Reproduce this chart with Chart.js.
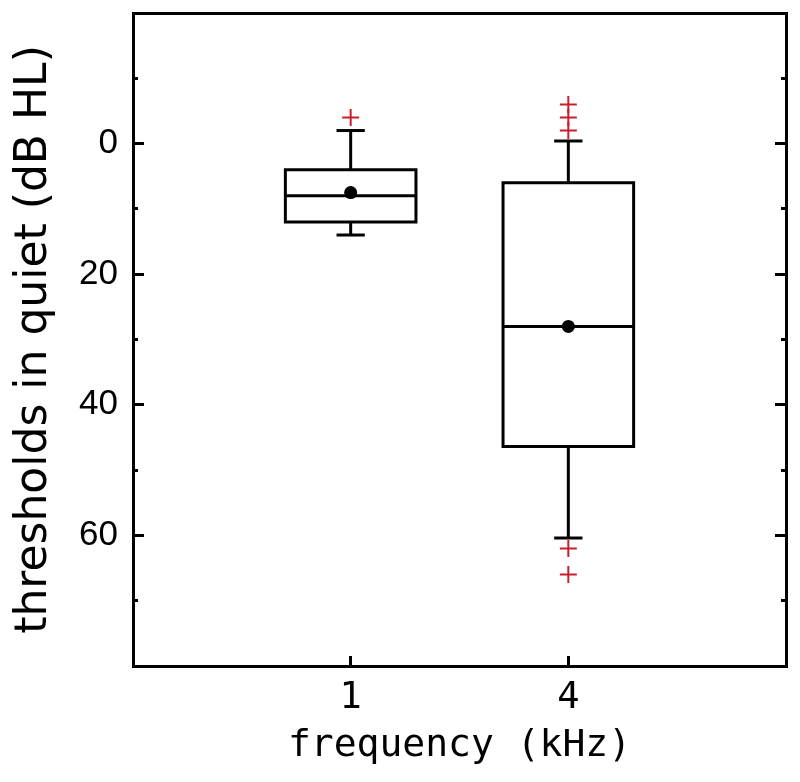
<!DOCTYPE html>
<html>
<head>
<meta charset="utf-8">
<script src="https://cdn.jsdelivr.net/npm/chart.js@4/dist/chart.umd.min.js"></script>
<style>
  html, body { margin: 0; padding: 0; background: #fff; }
  #wrap { width: 800px; height: 782px; }
</style>
</head>
<body>
<div id="wrap"><canvas id="thresholdChart" width="800" height="782"></canvas></div>
<script>
// values (dB HL, 0 at top)
var freqLabels = ['1', '4'];
var xPositions = [1, 2];
var boxTop = [4, 6];           // 25th percentile
var boxBottom = [12, 46.4];    // 75th percentile
var medians = [8, 28];
var means = [7.5, 28];
var whiskerTop = [-2, -0.4];
var whiskerBottom = [14, 60.4];
var outliers = [[-4], [-6, -4, -2, 62, 66]];
var yTickLabels = [0, 20, 40, 60];

var boxHalf = 0.3;
var capHalf = 0.065;
var outlierRed = 'rgb(200,30,45)';

function lineSet(points) {
    return {
        type: 'line',
        data: points,
        borderColor: '#000',
        borderWidth: 3,
        borderJoinStyle: 'miter',
        pointRadius: 0,
        fill: false,
        tension: 0
    };
}

var datasets = [];
for (var i = 0; i < freqLabels.length; i++) {
    var x = xPositions[i];
    // box
    datasets.push(lineSet([
        {x: x, y: boxTop[i]}, {x: x + boxHalf, y: boxTop[i]},
        {x: x + boxHalf, y: boxBottom[i]}, {x: x - boxHalf, y: boxBottom[i]},
        {x: x - boxHalf, y: boxTop[i]}, {x: x, y: boxTop[i]}
    ]));
    // median
    datasets.push(lineSet([{x: x - boxHalf, y: medians[i]}, {x: x + boxHalf, y: medians[i]}]));
    // whiskers and caps
    datasets.push(lineSet([{x: x, y: boxTop[i]}, {x: x, y: whiskerTop[i]}]));
    datasets.push(lineSet([{x: x - capHalf, y: whiskerTop[i]}, {x: x + capHalf, y: whiskerTop[i]}]));
    datasets.push(lineSet([{x: x, y: boxBottom[i]}, {x: x, y: whiskerBottom[i]}]));
    datasets.push(lineSet([{x: x - capHalf, y: whiskerBottom[i]}, {x: x + capHalf, y: whiskerBottom[i]}]));
}

var outlierPoints = [];
for (var j = 0; j < outliers.length; j++) {
    outliers[j].forEach(function (v) { outlierPoints.push({x: xPositions[j], y: v}); });
}
datasets.push({
    type: 'scatter',
    data: outlierPoints,
    pointStyle: 'cross',
    pointRadius: 8.5,
    pointBorderWidth: 2,
    borderColor: outlierRed,
    backgroundColor: outlierRed
});

datasets.push({
    type: 'scatter',
    data: means.map(function (m, k) { return {x: xPositions[k], y: m}; }),
    pointStyle: 'circle',
    pointRadius: 6.5,
    borderWidth: 0,
    backgroundColor: '#000'
});

function yLabel(v) {
    return yTickLabels.indexOf(v) >= 0 ? String(v) : '';
}

// stop the axes from reserving room for edge labels
function noPad(s) {
    s.paddingLeft = 0;
    s.paddingRight = 0;
    s.paddingTop = 0;
    s.paddingBottom = 0;
}

function sideAxis(position, step, len, weight) {
    return {
        type: 'linear',
        position: position,
        reverse: true,
        min: -20,
        max: 80,
        weight: weight,
        border: {display: false},
        grid: {drawOnChartArea: false, tickLength: -len, tickWidth: 3, tickColor: '#000'},
        ticks: {stepSize: step, display: false},
        afterFit: function (s) { s.width = 0; noPad(s); }
    };
}

var yMinorLeft = sideAxis('left', 10, 5, 0);
var yMajorRight = sideAxis('right', 20, 11, 0);
var yMinorRight = sideAxis('right', 10, 5, 1);
yMajorRight.border = {display: true, color: '#000', width: 3};

var ctx = document.getElementById('thresholdChart').getContext('2d');
var thresholdChart = new Chart(ctx, {
    data: {datasets: datasets},
    options: {
        responsive: false,
        animation: false,
        layout: {padding: {left: 0, top: 13, right: 14, bottom: 0}},
        plugins: {legend: {display: false}, tooltip: {enabled: false}},
        scales: {
            x: {
                type: 'linear',
                position: 'bottom',
                min: 0,
                max: 3,
                border: {display: true, color: '#000', width: 3},
                grid: {
                    drawOnChartArea: false,
                    tickLength: -10,
                    tickWidth: 3,
                    tickColor: function (c) {
                        return (c.tick && (c.tick.value === 1 || c.tick.value === 2)) ? '#000' : 'rgba(0,0,0,0)';
                    }
                },
                ticks: {
                    stepSize: 1,
                    autoSkip: false,
                    maxRotation: 0,
                    padding: 20,
                    color: '#000',
                    font: {family: 'DejaVu Sans Mono', size: 37},
                    callback: function (v) { return v >= 1 && v <= 2 ? freqLabels[v - 1] : ''; }
                },
                title: {
                    display: true,
                    text: 'frequency (kHz)',
                    color: '#000',
                    font: {family: 'DejaVu Sans Mono', size: 38},
                    padding: {top: 0, bottom: 13}
                },
                afterFit: function (s) { s.height = 116; noPad(s); }
            },
            xTop: {
                type: 'linear',
                position: 'top',
                min: 0,
                max: 3,
                border: {display: true, color: '#000', width: 3},
                grid: {display: false, drawTicks: false},
                ticks: {display: false},
                afterFit: function (s) { s.height = 0; noPad(s); }
            },
            y: {
                type: 'linear',
                position: 'left',
                reverse: true,
                min: -20,
                max: 80,
                weight: 1,
                border: {display: true, color: '#000', width: 3},
                grid: {drawOnChartArea: false, tickLength: -11, tickWidth: 3, tickColor: '#000'},
                ticks: {
                    stepSize: 20,
                    padding: 26,
                    color: '#000',
                    font: {family: 'Liberation Sans', size: 35},
                    callback: yLabel
                },
                title: {
                    display: true,
                    text: 'thresholds in quiet (dB HL)',
                    color: '#000',
                    font: {family: 'DejaVu Sans', size: 44},
                    padding: {top: 8, bottom: 0}
                },
                afterFit: function (s) { s.width = 133; noPad(s); }
            },
            yMinorLeft: yMinorLeft,
            yMajorRight: yMajorRight,
            yMinorRight: yMinorRight
        }
    }
});
</script>
</body>
</html>
